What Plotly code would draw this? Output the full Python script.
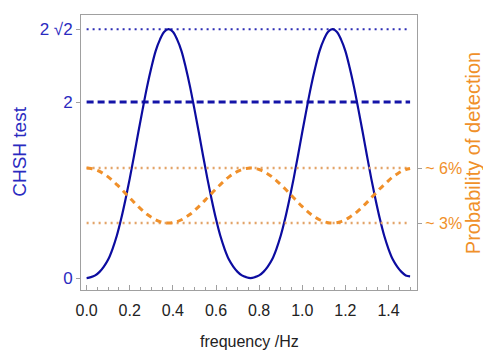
import plotly.graph_objects as go

# frequency grid (Hz)
freq = [0.00, 0.02, 0.04, 0.06, 0.08, 0.10, 0.12, 0.14, 0.16, 0.18,
        0.20, 0.22, 0.24, 0.26, 0.28, 0.30, 0.32, 0.34, 0.36, 0.38,
        0.40, 0.42, 0.44, 0.46, 0.48, 0.50, 0.52, 0.54, 0.56, 0.58,
        0.60, 0.62, 0.64, 0.66, 0.68, 0.70, 0.72, 0.74, 0.76, 0.78,
        0.80, 0.82, 0.84, 0.86, 0.88, 0.90, 0.92, 0.94, 0.96, 0.98,
        1.00, 1.02, 1.04, 1.06, 1.08, 1.10, 1.12, 1.14, 1.16, 1.18,
        1.20, 1.22, 1.24, 1.26, 1.28, 1.30, 1.32, 1.34, 1.36, 1.38,
        1.40, 1.42, 1.44, 1.46, 1.48, 1.50]

# CHSH test value (left axis)
chsh = [0.00, 0.01, 0.03, 0.07, 0.13, 0.21, 0.33, 0.48, 0.67, 0.89,
        1.13, 1.39, 1.66, 1.92, 2.17, 2.39, 2.58, 2.71, 2.80, 2.83,
        2.80, 2.71, 2.58, 2.39, 2.17, 1.92, 1.66, 1.39, 1.13, 0.89,
        0.67, 0.48, 0.33, 0.21, 0.13, 0.07, 0.03, 0.01, 0.00, 0.01,
        0.03, 0.07, 0.13, 0.21, 0.33, 0.48, 0.67, 0.89, 1.13, 1.39,
        1.66, 1.92, 2.17, 2.39, 2.58, 2.71, 2.80, 2.83, 2.80, 2.71,
        2.58, 2.39, 2.17, 1.92, 1.66, 1.39, 1.13, 0.89, 0.67, 0.48,
        0.33, 0.21, 0.13, 0.07, 0.03, 0.02]

# probability of detection in % (right axis)
prob = [6.00, 5.98, 5.92, 5.82, 5.68, 5.52, 5.32, 5.10, 4.87, 4.62,
        4.38, 4.13, 3.90, 3.68, 3.48, 3.32, 3.18, 3.08, 3.02, 3.00,
        3.02, 3.08, 3.18, 3.32, 3.48, 3.68, 3.90, 4.13, 4.38, 4.62,
        4.87, 5.10, 5.32, 5.52, 5.68, 5.82, 5.92, 5.98, 6.00, 5.98,
        5.92, 5.82, 5.68, 5.52, 5.32, 5.10, 4.87, 4.62, 4.38, 4.13,
        3.90, 3.68, 3.48, 3.32, 3.18, 3.08, 3.02, 3.00, 3.02, 3.08,
        3.18, 3.32, 3.48, 3.68, 3.90, 4.13, 4.38, 4.62, 4.87, 5.10,
        5.32, 5.52, 5.68, 5.82, 5.92, 5.98]

# reference levels
ref_x = [0.0, 1.5]
chsh_max = 2.828
chsh_classical = 2.0
prob_levels = [6.0, 3.0]

x_ticks = [0.0, 0.2, 0.4, 0.6, 0.8, 1.0, 1.2, 1.4]
x_ticktext = ["0.0", "0.2", "0.4", "0.6", "0.8", "1.0", "1.2", "1.4"]
y_ticks = [0, 2, 2.828]
y_ticktext = ["0", "2", "2 √2"]
y2_ticks = [3, 6]
y2_ticktext = ["~ 3%", "~ 6%"]

BLUE = "#0c0ca0"
BLUE_TXT = "#2a2ac0"
ORANGE = "#f0902a"
ORANGE_LIGHT = "#e3a468"
GREY = "#a0a0a0"
SANS = "Liberation Sans, Arial, sans-serif"

fig = go.Figure()

fig.add_trace(go.Scatter(x=ref_x, y=[chsh_max, chsh_max], mode="lines",
                         line=dict(color="#2c2cb4", width=2, dash="2px,4px"),
                         hoverinfo="skip", showlegend=False))
fig.add_trace(go.Scatter(x=ref_x, y=[chsh_classical, chsh_classical], mode="lines",
                         line=dict(color="#1414a8", width=3, dash="7px,4px"),
                         hoverinfo="skip", showlegend=False))
for lv in prob_levels:
    fig.add_trace(go.Scatter(x=ref_x, y=[lv, lv], mode="lines", yaxis="y2",
                             line=dict(color=ORANGE_LIGHT, width=2.5, dash="2px,4px"),
                             hoverinfo="skip", showlegend=False))

fig.add_trace(go.Scatter(x=freq, y=prob, mode="lines", yaxis="y2",
                         line=dict(color=ORANGE, width=3, dash="6px,5px", shape="spline"),
                         showlegend=False))
fig.add_trace(go.Scatter(x=freq, y=chsh, mode="lines",
                         line=dict(color=BLUE, width=2.2, shape="spline"),
                         showlegend=False))

y_lo, y_hi = -0.136, 2.99
scale = 1.25 / 6.0

fig.update_layout(
    width=483, height=352,
    margin=dict(l=81, r=66, t=15, b=62),
    paper_bgcolor="white", plot_bgcolor="white",
    xaxis=dict(range=[-0.026, 1.532], tickvals=x_ticks, ticktext=x_ticktext,
               showgrid=False, zeroline=False, showline=True, linecolor=GREY,
               linewidth=1, mirror=True, ticks="inside", ticklen=5, tickcolor=GREY,
               ticklabelstandoff=6,
               tickfont=dict(family=SANS, size=16, color="#222222"),
               minor=dict(dtick=0.05, tick0=0, ticks="inside", ticklen=3, tickcolor=GREY)),
    yaxis=dict(range=[y_lo, y_hi], tickvals=y_ticks, ticktext=y_ticktext,
               showgrid=False, zeroline=False, showline=True, linecolor=GREY,
               linewidth=1, ticks="outside", ticklen=4, tickcolor=GREY,
               tickfont=dict(family=SANS, size=17, color=BLUE_TXT)),
    yaxis2=dict(range=[y_lo / scale, y_hi / scale], tickvals=y2_ticks, ticktext=y2_ticktext,
                overlaying="y", side="right", anchor="x",
                showgrid=False, zeroline=False, showline=True, linecolor=GREY,
                linewidth=1, ticks="outside", ticklen=4, tickcolor=GREY,
                tickfont=dict(family=SANS, size=16, color=ORANGE)),
    annotations=[
        dict(text="CHSH test", xref="paper", yref="paper", x=-0.182, y=0.502,
             textangle=-90, showarrow=False, xanchor="center", yanchor="middle",
             font=dict(family=SANS, size=19, color=BLUE_TXT)),
        dict(text="Probability of detection", xref="paper", yref="paper", x=1.167, y=0.498,
             textangle=-90, showarrow=False, xanchor="center", yanchor="middle",
             font=dict(family=SANS, size=20, color=ORANGE)),
        dict(text="frequency /Hz", xref="paper", yref="paper", x=0.5, y=-0.189,
             showarrow=False, xanchor="center", yanchor="middle",
             font=dict(family=SANS, size=16, color="#222222")),
    ],
)

fig.write_html("out.html")
